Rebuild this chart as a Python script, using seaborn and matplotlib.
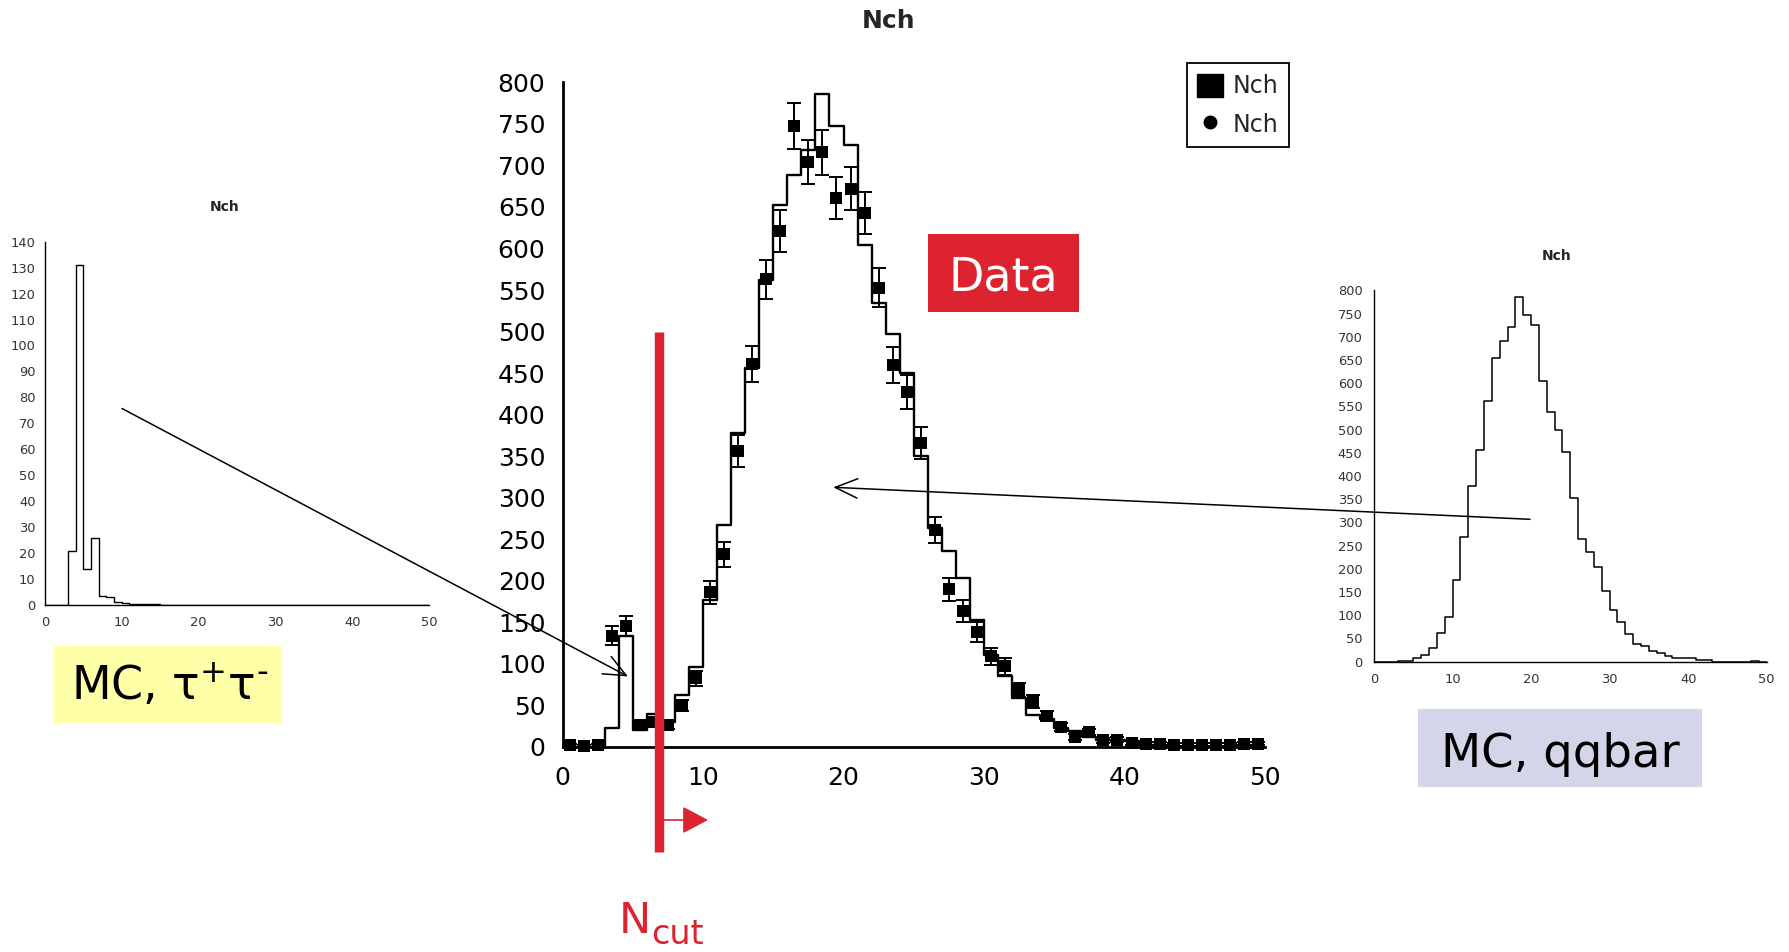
import numpy as np
import matplotlib
matplotlib.use("Agg")
import matplotlib.pyplot as plt
import seaborn as sns
from matplotlib.patches import Rectangle, Patch, FancyArrowPatch
from matplotlib.lines import Line2D

# ---------------- data ----------------
bin_edges = list(range(0, 51))
data_counts = [2, 1, 2, 134, 146, 26, 30, 27, 50, 83,
               186, 232, 356, 461, 563, 621, 747, 704, 716, 661,
               672, 643, 553, 460, 427, 366, 261, 190, 164, 138,
               109, 97, 69, 55, 37, 24, 12, 18, 8, 9,
               5, 4, 4, 3, 3, 3, 3, 3, 4, 4]
data_errors = [1.5, 1, 1.5, 11.5, 12, 5, 5.5, 5, 7, 9,
               13.5, 15, 19, 21.5, 23.5, 25, 27.5, 26.5, 27, 25.5,
               26, 25.5, 23.5, 21.5, 20.5, 19, 16, 14, 13, 12,
               10.5, 10, 8.5, 7.5, 6, 5, 3.5, 4, 3, 3,
               2, 2, 2, 1.5, 1.5, 1.5, 1.5, 1.5, 2, 2]
mc_total = [0, 0, 0, 23, 134, 21, 40, 30, 63, 96,
            177, 267, 378, 456, 562, 652, 689, 719, 786, 747,
            725, 604, 534, 497, 450, 350, 264, 236, 203, 153,
            111, 85, 59, 38, 34, 23, 19, 12, 9, 9,
            7, 3, 3, 0, 0, 0, 0, 0, 2, 0]
mc_qqbar = [0, 0, 0, 2, 2, 9, 14, 29, 62, 97,
            177, 268, 378, 457, 562, 654, 690, 722, 786, 747,
            725, 605, 537, 499, 452, 352, 264, 236, 203, 153,
            111, 85, 59, 38, 34, 23, 19, 12, 9, 9,
            7, 3, 3, 0, 0, 0, 0, 0, 2, 0]
mc_tautau = [0, 0, 0, 21, 131, 14, 26, 3.5, 3, 1,
             0.6, 0.5, 0.5, 0.5, 0.5, 0, 0, 0, 0, 0,
             0, 0, 0, 0, 0, 0, 0, 0, 0, 0,
             0, 0, 0, 0, 0, 0, 0, 0, 0, 0,
             0, 0, 0, 0, 0, 0, 0, 0, 0, 0]
main_yticks = list(range(0, 801, 50))
tau_yticks = list(range(0, 141, 10))
x_ticks = list(range(0, 51, 10))
n_cut = 6.9

centers = np.array(bin_edges[:-1]) + 0.5

# ---------------- style ----------------
sns.set_style("white")
plt.rcParams["font.family"] = ["DejaVu Sans"]
plt.rcParams["mathtext.fontset"] = "dejavusans"

W, H = 1789, 952
fig = plt.figure(figsize=(W / 100, H / 100), dpi=100)


def fx(px):
    return px / W


def fy(py):
    return 1 - py / H


RED = "#dd2330"

# ---------------- main axes ----------------
ax = fig.add_axes([fx(562.5), fy(747), (1265 - 562.5) / W, (747 - 82.3) / H])
ax.patch.set_alpha(0)
sns.histplot(x=centers, weights=mc_total, bins=bin_edges, element="step",
             fill=False, color="black", linewidth=1.7, ax=ax)
ax.errorbar(centers, data_counts, yerr=data_errors, fmt="none", ecolor="black",
            elinewidth=1.4, capsize=4.7, capthick=1.4, clip_on=False, zorder=3)
sns.scatterplot(x=centers, y=data_counts, marker="s", s=64, color="black",
                edgecolor="black", linewidth=0, ax=ax, clip_on=False,
                zorder=4, legend=False)
ax.set_xlim(0, 50)
ax.set_ylim(0, 800)
ax.set_xticks(x_ticks)
ax.set_yticks(main_yticks)
ax.set_xlabel("")
ax.set_ylabel("")
for s in ["top", "right"]:
    ax.spines[s].set_visible(False)
for s in ["left", "bottom"]:
    ax.spines[s].set_linewidth(2.0)
    ax.spines[s].set_color("black")
ax.tick_params(direction="inout", length=16.6, width=2.0, labelsize=18,
               colors="black")
ax.tick_params(axis="y", pad=4.0)
ax.tick_params(axis="x", pad=5.5)

handles = [Patch(facecolor="black", edgecolor="black"),
           Line2D([], [], marker="o", color="black", linestyle="none",
                  markersize=9)]
leg = ax.legend(handles, ["Nch", "Nch"], loc="upper left",
                bbox_to_anchor=(fx(1186.7), fy(63.3)),
                bbox_transform=fig.transFigure, fontsize=17, frameon=True,
                fancybox=False, edgecolor="black", framealpha=1,
                borderpad=0.45, handlelength=1.08, handleheight=1.1,
                handletextpad=0.4, labelspacing=0.6, borderaxespad=0)
leg.get_frame().set_linewidth(1.3)

fig.text(fx(889), fy(21), "Nch", ha="center", va="center", fontsize=18,
         fontweight="bold")

# ---------------- left inset (tau tau) ----------------
axl = fig.add_axes([fx(45), fy(605), (429 - 45) / W, (605 - 241.7) / H])
axl.patch.set_alpha(0)
sns.histplot(x=centers, weights=mc_tautau, bins=bin_edges, element="step",
             fill=False, color="black", linewidth=1.0, ax=axl)
axl.set_xlim(0, 50)
axl.set_ylim(0, 140)
axl.set_xticks(x_ticks)
axl.set_yticks(tau_yticks)
axl.set_xlabel("")
axl.set_ylabel("")
for s in ["top", "right"]:
    axl.spines[s].set_visible(False)
for s in ["left", "bottom"]:
    axl.spines[s].set_linewidth(1.0)
    axl.spines[s].set_color("black")
axl.tick_params(direction="inout", length=9, width=1.0, labelsize=9.4,
                colors="black")
axl.tick_params(axis="y", pad=2.4)
axl.tick_params(axis="x", pad=3.5)
for t in axl.get_xticklabels() + axl.get_yticklabels():
    t.set_color("#333333")
fig.text(fx(225), fy(207), "Nch", ha="center", va="center", fontsize=10,
         fontweight="bold")

# ---------------- right inset (qqbar) ----------------
axr = fig.add_axes([fx(1374), fy(661.7), (1766.7 - 1374) / W,
                    (661.7 - 290.3) / H])
axr.patch.set_alpha(0)
sns.histplot(x=centers, weights=mc_qqbar, bins=bin_edges, element="step",
             fill=False, color="black", linewidth=1.1, ax=axr)
axr.set_xlim(0, 50)
axr.set_ylim(0, 800)
axr.set_xticks(x_ticks)
axr.set_yticks(main_yticks)
axr.set_xlabel("")
axr.set_ylabel("")
for s in ["top", "right"]:
    axr.spines[s].set_visible(False)
for s in ["left", "bottom"]:
    axr.spines[s].set_linewidth(1.0)
    axr.spines[s].set_color("black")
axr.tick_params(direction="inout", length=8.6, width=1.0, labelsize=9.4,
                colors="black")
axr.tick_params(axis="y", pad=4.0)
axr.tick_params(axis="x", pad=3.5)
for t in axr.get_xticklabels() + axr.get_yticklabels():
    t.set_color("#333333")
fig.text(fx(1557), fy(256), "Nch", ha="center", va="center", fontsize=10,
         fontweight="bold")

# ---------------- annotations ----------------
# N_cut bar
ax.plot([n_cut, n_cut], [500, -126], color=RED, lw=6.8,
        solid_capstyle="butt", clip_on=False, zorder=6)
fig.add_artist(FancyArrowPatch((fx(663), fy(820)), (fx(708), fy(820)),
                               transform=fig.transFigure,
                               arrowstyle="-|>,head_length=1.6,head_width=0.85",
                               mutation_scale=10, lw=1.2, color=RED,
                               shrinkA=0, shrinkB=0, zorder=7))
fig.text(fx(619), fy(933), "N", color=RED, fontsize=31, ha="left",
         va="baseline")
fig.text(fx(651), fy(944), "cut", color=RED, fontsize=24, ha="left",
         va="baseline")

# Data label
fig.add_artist(Rectangle((fx(927.7), fy(311.7)), (1079.3 - 927.7) / W,
                         (311.7 - 234) / H, transform=fig.transFigure,
                         facecolor=RED, edgecolor="none", zorder=5))
fig.text(fx(1003.5), fy(290.7), "Data", color="white", fontsize=33,
         ha="center", va="baseline", zorder=6)

# MC tau tau label
fig.add_artist(Rectangle((fx(54), fy(722.7)), (281.7 - 54) / W,
                         (722.7 - 645.7) / H, transform=fig.transFigure,
                         facecolor="#ffffa8", edgecolor="none", zorder=5))
fig.text(fx(170), fy(700), r"MC, τ$^{+}$τ$^{\text{-}}$", color="black",
         fontsize=33, ha="center", va="baseline", zorder=6)

# MC qqbar label
fig.add_artist(Rectangle((fx(1418.3), fy(786.7)), (1701.7 - 1418.3) / W,
                         (786.7 - 709) / H, transform=fig.transFigure,
                         facecolor="#d5d5ea", edgecolor="none", zorder=5))
fig.text(fx(1560.5), fy(767.3), "MC, qqbar", color="black", fontsize=33.5,
         ha="center", va="baseline", zorder=6)

# arrows from insets to main plot
fig.add_artist(FancyArrowPatch((fx(122), fy(408.5)), (fx(628), fy(676.5)),
                               transform=fig.transFigure,
                               arrowstyle="->,head_length=1.6,head_width=0.7",
                               mutation_scale=10, lw=1.1, color="black",
                               shrinkA=0, shrinkB=0, zorder=8))
fig.add_artist(FancyArrowPatch((fx(1530), fy(519.3)), (fx(833.3), fy(487.3)),
                               transform=fig.transFigure,
                               arrowstyle="->,head_length=1.6,head_width=0.7",
                               mutation_scale=10, lw=1.1, color="black",
                               shrinkA=0, shrinkB=0, zorder=8))

fig.savefig("out.png", dpi=100, facecolor="white")
